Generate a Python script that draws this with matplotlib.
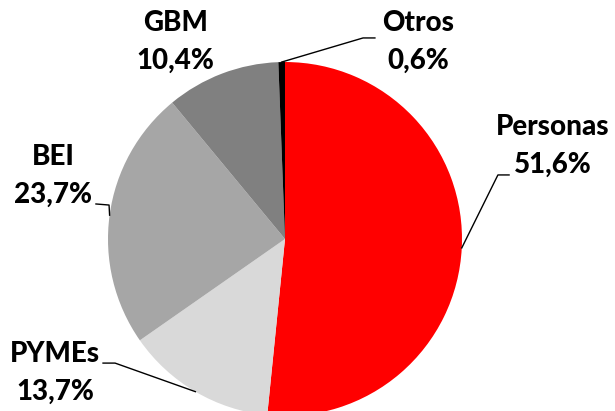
import numpy as np
import matplotlib
matplotlib.use("Agg")
import matplotlib.pyplot as plt

categories = ["Personas", "PYMEs", "BEI", "GBM", "Otros"]
shares = [51.6, 13.7, 23.7, 10.4, 0.6]
colors = ["#ff0000", "#d9d9d9", "#a6a6a6", "#808080", "#000000"]

# label block centres, in pie radius units
label_pos = {
    "Personas": (1.514, 0.525),
    "PYMEs": (-1.299, -0.757),
    "BEI": (-1.311, 0.356),
    "GBM": (-0.621, 1.113),
    "Otros": (0.751, 1.113),
}
# leader line points from the label side towards the wedge
leaders = {
    "Personas": [(1.266, 0.362), (1.203, 0.362)],
    "PYMEs": [(-1.028, -0.701), (-0.960, -0.701)],
    "BEI": [(-1.068, 0.198), (-0.994, 0.192)],
    "Otros": [(0.508, 1.136), (0.441, 1.136)],
}

plt.rcParams["font.family"] = ["Lato", "DejaVu Sans"]

fig = plt.figure(figsize=(6.15, 4.11), dpi=100)
ax = fig.add_axes([0.1756, -0.0122, 0.5756, 0.8613])

wedges, _ = ax.pie(shares, colors=colors, startangle=90, counterclock=False,
                   wedgeprops=dict(linewidth=0))
ax.set_xlim(-1, 1)
ax.set_ylim(-1, 1)
ax.axis("off")

for w, name, val in zip(wedges, categories, shares):
    mid = np.deg2rad((w.theta1 + w.theta2) / 2)
    x, y = label_pos[name]
    txt = f"{name}\n{val:.1f}%".replace(".", ",")
    ax.text(x, y, txt, ha="center", va="center", fontsize=20,
            fontweight="black", linespacing=1.55, clip_on=False)
    if name in leaders:
        pts = leaders[name] + [(np.cos(mid), np.sin(mid))]
        xs, ys = zip(*pts)
        ax.plot(xs, ys, color="black", linewidth=1.0, clip_on=False)

fig.savefig("out.png", dpi=100)
